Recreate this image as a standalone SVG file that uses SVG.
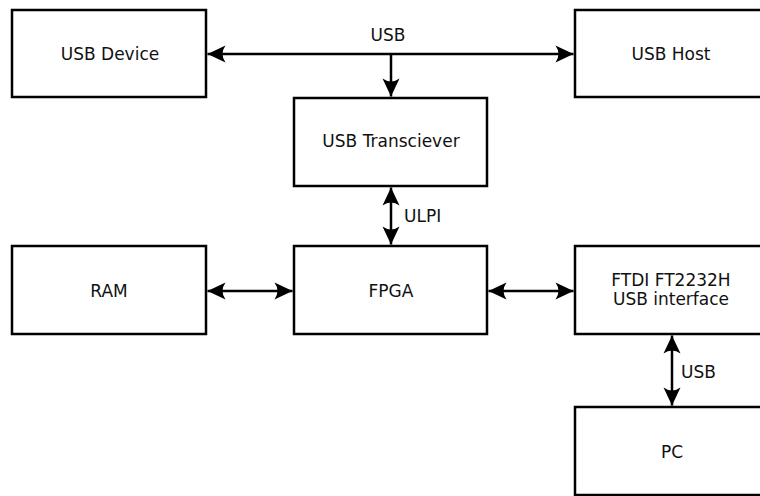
<svg xmlns="http://www.w3.org/2000/svg" width="760" height="496" viewBox="0 0 760 496">
<style>
.box{fill:#fff;stroke:#000;stroke-width:2.5}
.t{font-family:"DejaVu Sans",sans-serif;font-size:17px;fill:#111}
.c{text-anchor:middle}
.ln{fill:none;stroke:#000;stroke-width:2.5}
</style>
<defs>
<marker id="ah" markerUnits="userSpaceOnUse" viewBox="-19 -10 21 20" refX="0" refY="0" markerWidth="21" markerHeight="20" orient="auto-start-reverse">
<path d="M0,0 L-18,-8.5 Q-12,0 -18,8.5 Z" fill="#000"/>
</marker>
</defs>
<rect width="760" height="496" fill="#fff"/>
<g id="connectors">
<path class="ln" d="M207.5,54 H573.5" marker-start="url(#ah)" marker-end="url(#ah)"/>
<path class="ln" d="M391,54 V96.5" marker-end="url(#ah)"/>
<path class="ln" d="M391,187.5 V244.5" marker-start="url(#ah)" marker-end="url(#ah)"/>
<path class="ln" d="M207.5,291 H292.5" marker-start="url(#ah)" marker-end="url(#ah)"/>
<path class="ln" d="M488.5,291 H573.5" marker-start="url(#ah)" marker-end="url(#ah)"/>
<path class="ln" d="M672,335.5 V405.5" marker-start="url(#ah)" marker-end="url(#ah)"/>
<text class="t c" x="388" y="41">USB</text>
<text class="t" x="404" y="222">ULPI</text>
<text class="t" x="681" y="378">USB</text>
</g>
<g id="usb-device"><rect class="box" x="12" y="10" width="194" height="87"/><text class="t c" x="110" y="60">USB Device</text></g>
<g id="usb-host"><rect class="box" x="575" y="10" width="194" height="87"/><text class="t c" x="671" y="60">USB Host</text></g>
<g id="usb-transciever"><rect class="box" x="294" y="98" width="193" height="88"/><text class="t c" x="391" y="147">USB Transciever</text></g>
<g id="ram"><rect class="box" x="12" y="246" width="194" height="88"/><text class="t c" x="109" y="297">RAM</text></g>
<g id="fpga"><rect class="box" x="294" y="246" width="193" height="88"/><text class="t c" x="391" y="297">FPGA</text></g>
<g id="ftdi"><rect class="box" x="575" y="246" width="194" height="88"/><text class="t c" x="671" y="286">FTDI FT2232H</text><text class="t c" x="671" y="305">USB interface</text></g>
<g id="pc"><rect class="box" x="575" y="407" width="194" height="88"/><text class="t c" x="672" y="458">PC</text></g>
</svg>
